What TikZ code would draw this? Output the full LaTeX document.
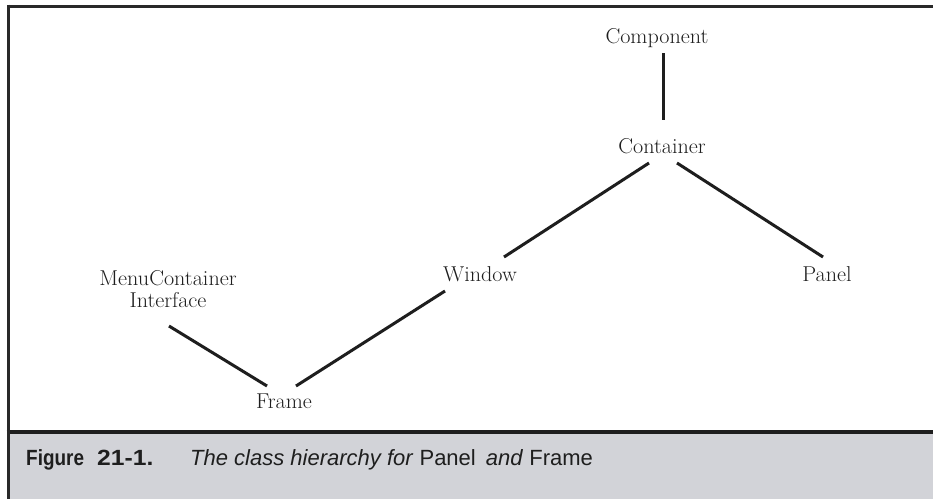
\documentclass[tikz,border=0pt]{standalone}
\usepackage{fontspec}
\setmainfont{Latin Modern Roman}[FakeStretch=1.03]
\newfontfamily\capfont{Liberation Sans}
\newfontfamily\capbold[FakeStretch=0.86]{Liberation Sans Bold}
\newfontfamily\capboldwide[FakeStretch=1.12]{Liberation Sans Bold}
\definecolor{capgray}{HTML}{D2D3D8}
\definecolor{ink}{HTML}{1E1E1E}
\tikzset{
  cls/.style={font=\fontsize{21.5}{22}\selectfont, text=ink, inner sep=0pt, anchor=base},
  link/.style={line width=3pt, ink},
  rule/.style={line width=3pt, draw=ink!95},
  captext/.style={anchor=base west, inner sep=0pt, text=ink},
}
\begin{document}
\begin{tikzpicture}[x=1pt,y=-1pt]
\useasboundingbox (0,0) rectangle (933,499);
% caption band
\fill[capgray] (8,432) rectangle (933,499);
\draw[line width=4pt, ink] (6.5,432) -- (933,432);
% frame
\draw[rule] (8,6) -- (933,6);
\draw[rule] (8,4.5) -- (8,499);
% nodes (placed on their baselines)
\node[cls] (component) at (657,43) {Component};
\node[cls] (container) at (662,153) {Container};
\node[cls] (window) at (480,281) {Window};
\node[cls] (panel) at (827,281) {Panel};
\node[cls] (menu) at (168,285) {\begin{tabular}[t]{@{}c@{}}MenuContainer\\Interface\end{tabular}};
\node[cls] (frame) at (284,408) {Frame};
% connector end points
\coordinate (c1a) at (663,53);  \coordinate (c1b) at (663,120);
\coordinate (c2a) at (649,163); \coordinate (c2b) at (504,257);
\coordinate (c3a) at (677,163); \coordinate (c3b) at (823,257);
\coordinate (c4a) at (445,291); \coordinate (c4b) at (296,386);
\coordinate (c5a) at (169,326); \coordinate (c5b) at (267,386);
\draw[link] (c1a) -- (c1b);
\draw[link] (c2a) -- (c2b);
\draw[link] (c3a) -- (c3b);
\draw[link] (c4a) -- (c4b);
\draw[link] (c5a) -- (c5b);
% caption
\node[captext, font=\capbold\fontsize{22}{24}\selectfont] (capfig) at (26,465) {Figure};
\node[captext, font=\capboldwide\fontsize{22}{24}\selectfont] (capnum) at (97,465) {21-1.};
\node[captext, font=\capfont\fontsize{22}{24}\selectfont] (captitle) at (190,465)
  {\textit{The class hierarchy for} Panel\hspace{4pt} \textit{and} Frame};
\end{tikzpicture}
\end{document}
